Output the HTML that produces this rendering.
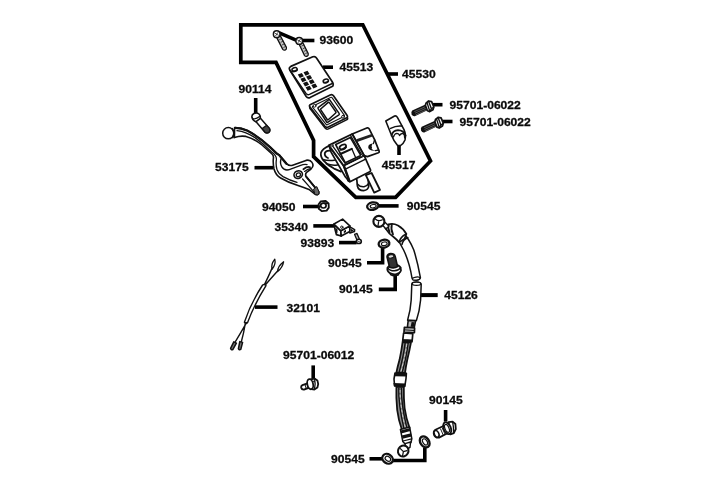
<!DOCTYPE html>
<html lang="en">
<head>
<meta charset="utf-8">
<title>Brake master cylinder parts diagram</title>
<style>
html,body{margin:0;padding:0;background:#fff;}
body{width:720px;height:480px;overflow:hidden;}
svg{display:block;filter:grayscale(1);}
text{font-family:"Liberation Sans",Arial,Helvetica,sans-serif;font-weight:bold;font-size:12.1px;fill:#0a0a0a;stroke:#0a0a0a;stroke-width:0.3px;}
.ld{stroke:#000;stroke-width:3.6;fill:none;stroke-linecap:butt;stroke-linejoin:miter;}
.fr{stroke:#000;stroke-width:3.7;fill:none;stroke-linejoin:miter;}
.p{stroke:#111;stroke-width:1.25;fill:#fff;stroke-linejoin:round;stroke-linecap:round;}
.pn{stroke:#111;stroke-width:1.25;fill:none;stroke-linejoin:round;stroke-linecap:round;}
.t{stroke:#222;stroke-width:0.8;fill:none;stroke-linecap:round;}
.g{stroke:#111;stroke-width:1.2;fill:#9a9a9a;stroke-linejoin:round;}
.k{fill:#111;stroke:none;}
</style>
</head>
<body>
<svg width="720" height="480" viewBox="0 0 720 480">
<rect width="720" height="480" fill="#fff"/>

<!-- assembly frame -->
<g id="frame">
<path class="fr" d="M240.8 24.8 L362.8 24.8 L430.5 161 L395.6 197.3 L355.8 197.3 L313.6 156.6 L313.6 140.4 L276 62.4 L240.8 62.4 Z"/>
</g>

<!-- labels -->
<g id="labels">
<text transform="translate(319.5 44.3) scale(1 0.955)">93600</text>
<text transform="translate(339.5 71.0) scale(1 0.955)">45513</text>
<text transform="translate(402.1 78.2) scale(1 0.955)">45530</text>
<text transform="translate(238.5 92.8) scale(1 0.955)">90114</text>
<text transform="translate(449.5 109.0) scale(1 0.955)">95701-06022</text>
<text transform="translate(459.5 126.0) scale(1 0.955)">95701-06022</text>
<text transform="translate(215 171.3) scale(1 0.955)">53175</text>
<text transform="translate(381.8 168.5) scale(1 0.955)">45517</text>
<text transform="translate(261.9 211.0) scale(1 0.955)">94050</text>
<text transform="translate(406.8 210.3) scale(1 0.955)">90545</text>
<text transform="translate(274.4 230.8) scale(1 0.955)">35340</text>
<text transform="translate(300.5 246.6) scale(1 0.955)">93893</text>
<text transform="translate(328 266.8) scale(1 0.955)">90545</text>
<text transform="translate(339 293.2) scale(1 0.955)">90145</text>
<text transform="translate(444.2 299.3) scale(1 0.955)">45126</text>
<text transform="translate(286.4 311.7) scale(1 0.955)">32101</text>
<text transform="translate(283 359.0) scale(1 0.955)">95701-06012</text>
<text transform="translate(429 404.2) scale(1 0.955)">90145</text>
<text transform="translate(331 462.9) scale(1 0.955)">90545</text>
</g>

<!-- leader lines -->
<g id="leaders">
<path class="ld" d="M279.2 32.8 L298.4 41.2"/><path class="ld" d="M298 40.5 H314.4"/>
<path class="ld" d="M323 67.2 H333"/>
<path class="ld" d="M388 74 H398"/>
<path class="ld" d="M255.7 98 V114"/>
<path class="ld" d="M432 104.7 H442.5"/>
<path class="ld" d="M442 121.5 H452.5"/>
<path class="ld" d="M254.5 167.7 H273.5"/>
<path class="ld" d="M399 144.5 V155"/>
<path class="ld" d="M303 206.5 H319"/>
<path class="ld" d="M379 205.9 H398.6"/>
<path class="ld" d="M313.3 225.9 H334.6"/>
<path class="ld" d="M339 242.6 H356.6"/>
<path class="ld" d="M367 262.8 H382.6 V247.6"/>
<path class="ld" d="M378.8 289.4 H395.2 V274.6"/>
<path class="ld" style="stroke-width:4" d="M420.5 295.1 H437.7"/>
<path class="ld" d="M255 307.1 H277.5"/>
<path class="ld" d="M313.2 365.4 V379.4"/>
<path class="ld" d="M445.6 410 V421.6"/>
<path class="ld" d="M369.5 458.8 H383"/>
<path class="ld" d="M392.4 460.5 H424.8 V447.6"/>
</g>

<g id="parts">
<!-- screws 93600 -->
<g id="screws">
<path style="stroke:#111;stroke-width:1.3;fill:#c4c4c4;stroke-linejoin:round" d="M276.6 37.4 L280.2 35.6 L286.4 47.4 Q286.8 49.2 285.4 50 Q283.8 50.6 282.8 49.4 Z"/>
<path class="t" d="M279.6 39.6 L281.6 38.6 M281 42.2 L283 41.2 M282.4 44.8 L284.4 43.8 M283.8 47.4 L285.6 46.4"/>
<ellipse class="p" style="stroke-width:1.5" cx="276.7" cy="34.2" rx="3.3" ry="3.4"/>
<path class="t" d="M275 33.2 L278.4 35.2 M275.6 35.8 L277.8 32.6"/>
<path style="stroke:#111;stroke-width:1.3;fill:#c4c4c4;stroke-linejoin:round" d="M299 44 L302.6 42.2 L308.2 53.6 Q308.6 55.4 307.2 56.2 Q305.6 56.8 304.6 55.6 Z"/>
<path class="t" d="M301.8 46 L303.8 45 M303.2 48.6 L305.2 47.6 M304.4 51.2 L306.4 50.2 M305.6 53.6 L307.4 52.6"/>
<ellipse class="p" style="stroke-width:1.5" cx="299.2" cy="40.9" rx="3.3" ry="3.4"/>
<path class="t" d="M297.5 39.9 L300.9 41.9 M298.1 42.5 L300.3 39.3"/>
</g>
<!-- cap 45513 -->
<g id="cap">
<path class="p" style="stroke-width:1.7" d="M289.8 70 Q288.4 67.6 290.8 66.4 L312.8 56.8 Q315.2 55.9 316.5 58 L332.4 82 Q333.6 83.8 333 85.8 L332.6 86.2 L310 97.6 Q307.6 98.6 306.2 96.5 Z"/>
<path class="pn" style="stroke-width:1.4" d="M289.8 70 L306 93.4 Q307.4 95.3 309.5 94.4 L331.2 84 Q333 83.2 332.4 82"/>
<ellipse class="p" style="stroke-width:1.5" cx="294.6" cy="69.6" rx="2.7" ry="1.9" transform="rotate(-20 294.6 69.6)"/>
<path class="pn" style="stroke-width:1.2" d="M292.6 70.6 Q294.6 71.6 296.8 69.8"/>
<ellipse class="p" style="stroke-width:1.5" cx="325.8" cy="81" rx="2.7" ry="1.9" transform="rotate(-20 325.8 81)"/>
<path class="pn" style="stroke-width:1.2" d="M323.8 82 Q325.8 83 328 81.2"/>
<g transform="matrix(0.92 -0.36 0.52 0.85 297.8 74.6)">
<rect class="k" x="0" y="0" width="4.4" height="3.9"/><rect class="k" x="6.2" y="0" width="4.4" height="3.9"/>
<rect class="k" x="0" y="5" width="4.4" height="3.9"/><rect class="k" x="6.2" y="5" width="4.4" height="3.9"/>
<rect class="k" x="0" y="10" width="4.4" height="3.9"/><rect class="k" x="6.2" y="10" width="4.4" height="3.9"/>
<rect class="k" x="0" y="15" width="4.4" height="3.9"/><rect class="k" x="6.2" y="15" width="4.4" height="3.9"/>
</g>
</g>
<!-- diaphragm -->
<g id="diaphragm">
<path class="p" style="stroke-width:1.5" d="M310.2 108.9 Q308.8 107.2 310.8 106.2 L330.2 96.8 Q332.2 95.8 333.5 97.6 L347.2 117.1 Q348.5 118.9 346.5 119.9 L328.5 128.8 Q326.5 129.8 325.1 128.1 Z"/>
<path class="p" style="stroke-width:1.7" d="M310.0 107.1 Q308.6 105.4 310.6 104.4 L330.2 95.0 Q332.2 94.0 333.5 95.8 L347.0 115.3 Q348.3 117.1 346.3 118.1 L328.3 127.0 Q326.3 128.0 324.9 126.3 Z"/>
<path class="pn" style="stroke-width:1.1" d="M312.7 107.3 Q312.0 106.4 313.1 105.9 L330.5 97.5 Q331.6 96.9 332.2 97.9 L344.2 115.1 Q344.9 116.1 343.9 116.6 L327.7 124.6 Q326.7 125.2 325.9 124.2 Z"/>
<path class="pn" style="stroke-width:1.5" d="M318.1 108.7 Q317.6 107.9 318.4 107.3 L328.5 99.9 Q329.3 99.3 329.9 100.1 L339.1 113.4 Q339.7 114.2 338.9 114.8 L328.0 122.2 Q327.2 122.8 326.7 122.0 Z"/>
<path class="pn" style="stroke-width:1.5" d="M320.8 109.9 Q320.4 109.2 321.0 108.7 L328.2 102.4 Q328.8 101.9 329.3 102.6 L335.8 111.8 Q336.3 112.5 335.7 113.0 L328.2 119.7 Q327.6 120.2 327.2 119.5 Z"/>
<circle class="p" style="stroke-width:1" cx="314.6" cy="105.8" r="1.4"/><circle class="p" style="stroke-width:1" cx="343" cy="116.8" r="1.4"/>
</g>
<!-- pin 90114 -->
<g id="pin">
<path class="p" style="stroke-width:1.5" d="M255 120.4 L259.6 117.2 L269.4 128.4 Q270.6 130.8 268.8 132.4 Q266.8 133.6 265 132.2 Z"/>
<path d="M262.2 128.6 L266.6 125.4 L269.4 128.4 Q270.6 130.8 268.8 132.4 Q266.8 133.6 265 132.2 Z" fill="#444" stroke="#111" stroke-width="1.2"/>
<path class="p" style="stroke-width:1.6" d="M252 117.6 Q251.4 114.6 254 113.4 Q257 112.4 259 114 Q261 116 260 118.6 L256 121.6 Q253 121 252 117.6 Z"/>
<path class="pn" style="stroke-width:1.3" d="M252.6 118.6 Q256 119.6 259.6 116.6"/>
</g>
<!-- lever 53175 -->
<g id="lever">
<path class="p" style="stroke-width:1.6" d="M234.6 127.6 Q241 127.6 247.5 130.6 Q259 136.6 270 147 L277 153.6 Q279.6 154.6 281.4 157.4 L286.6 163.6 Q289.4 166.4 292.6 165.2 L306 160.4 Q310 159.4 312 162.4 Q314.4 165.8 311 169 L306.6 172.4 Q305 174 306 176.4 L318.6 191.6 Q319.6 193.8 317.6 194.6 Q315.6 195 314 193.4 L309 189.4 Q304 187.4 298 185.4 Q288 182.4 280.6 178 Q275.6 175 274 169 Q272.8 163 273.4 158 Q273.8 155.6 272 154 L262 145 Q254 138.6 246 136.4 Q240 135.4 234.4 137.6 Z"/>
<path class="pn" style="stroke-width:2.3" d="M235.6 127.8 Q241 127.8 247.5 130.8 Q259 136.8 270 147.2 L277 153.8 Q279.4 154.8 281.2 157.6 L286.4 163.8"/>
<path class="pn" style="stroke-width:1.3" d="M237 130.6 Q246 131.6 254.6 137.4 Q263 143.2 271.6 152 Q276.6 155.4 276.4 159.4 Q275.6 165 277 169.6 Q278.6 174 283 176.6 Q290 180.4 297 182.4"/>
<path class="pn" style="stroke-width:1.4" d="M281 159 Q279.6 163.4 282 167.2 Q284 170.6 288.6 169.8 L300 165.6 Q304.6 163.8 307 164.6"/>
<path class="pn" style="stroke-width:1.8" d="M306.2 176.6 L318.4 191.6"/>
<path class="pn" style="stroke-width:1.2" d="M302.6 179 L314.6 192.6"/>
<circle class="p" style="stroke-width:1.5" cx="228.3" cy="133.2" r="5.6"/>
<path class="pn" style="stroke-width:1.6" d="M232.4 128.6 Q235 133 232.8 137.6"/>
<ellipse class="p" style="stroke-width:1.6" cx="298.2" cy="174.6" rx="4.3" ry="3.7" transform="rotate(-25 298.2 174.6)"/>
<ellipse class="p" style="stroke-width:1.3" cx="298.4" cy="174.8" rx="2.2" ry="1.8" transform="rotate(-25 298.4 174.8)"/>
<path class="pn" style="stroke-width:1.8" d="M303.4 169.2 Q307.6 166 310 167.4"/>
<path class="pn" style="stroke-width:1.3" d="M304.6 171.4 Q308 168.6 310.6 168.6"/>
<path d="M313.6 189 L316.8 186.6 L318.8 191.4 Q319.8 193.8 317.6 194.8 Q315.6 195.2 314.6 193.6 Z" fill="#666" stroke="#111" stroke-width="1"/>
</g>
<!-- clamp 45517 -->
<g id="clamp">
<path class="p" style="stroke-width:1.6" d="M385.8 121 L394.6 116 Q396.4 115.6 397.4 117.4 L404 129.6 Q406.2 134.6 405 140 Q403.4 144 400.4 145.6 L397.6 145.6 Q393.6 141 391.4 135 Z"/>
<path class="pn" style="stroke-width:1.5" d="M390.6 128.4 Q396 125.4 401.8 126"/>
<path class="pn" style="stroke-width:1.8" d="M391.6 135.6 Q392.6 130.6 398 130.2 Q403.6 130.4 405.6 135.6"/>
<path class="pn" style="stroke-width:1.3" d="M393.4 137 Q394.4 133.6 397 133.4 Q399 133.6 399.6 135.6 Q400.6 133 403.2 133.6 Q404.8 134.6 404.6 137.6"/>
</g>
<!-- bolts 95701-06022 -->
<g id="bolts">
<path class="k" d="M 412.2 110.4 L 426.0 104.2 L 428.4 109.8 L 414.8 116.2 Q 412.6 116.6 411.6 114.2 Q 410.8 111.8 412.2 110.4 Z"/>
<path d="M 414.4 111.6 L 426.4 106.2 M 415.0 113.2 L 427.0 107.8 M 415.8 114.8 L 427.6 109.4" stroke="#999" stroke-width="0.5" fill="none"/>
<path class="p" style="stroke-width:1.7" d="M 426.0 103.2 L 428.6 101.0 L 431.6 101.6 L 433.8 107.0 L 433.0 109.8 L 429.8 111.6 L 427.4 110.8 L 425.4 105.4 Z"/>
<path class="pn" style="stroke-width:1.4" d="M 428.6 101.2 L 431.4 108.8 L 429.8 111.4 M 431.4 108.8 L 433.6 107.2 M 427.0 102.6 L 429.6 110.6"/>
<path class="k" d="M 421.7 126.7 L 435.5 120.5 L 437.9 126.1 L 424.3 132.5 Q 422.1 132.9 421.1 130.5 Q 420.3 128.1 421.7 126.7 Z"/>
<path d="M 423.9 127.9 L 435.9 122.5 M 424.5 129.5 L 436.5 124.1 M 425.3 131.1 L 437.1 125.7" stroke="#999" stroke-width="0.5" fill="none"/>
<path class="p" style="stroke-width:1.7" d="M 435.5 119.5 L 438.1 117.3 L 441.1 117.9 L 443.3 123.3 L 442.5 126.1 L 439.3 127.9 L 436.9 127.1 L 434.9 121.7 Z"/>
<path class="pn" style="stroke-width:1.4" d="M 438.1 117.5 L 440.9 125.1 L 439.3 127.7 M 440.9 125.1 L 443.1 123.5 M 436.5 118.9 L 439.1 126.9"/>
</g>
<!-- master cylinder -->
<g id="cylinder">
<!-- rear cylinder body -->
<path class="p" style="stroke-width:1.7" d="M352.2 134 L367.4 127.8 Q368.6 127.6 369.2 128.8 L374.6 139.6 L379.2 151.4 Q379.4 152.4 378.4 152.8 L367.4 156.6 L364 155.6 Z"/>
<path d="M356.8 140.6 L372 135.2" stroke="#222" stroke-width="2.8" fill="none"/>
<path class="k" d="M373.4 143.6 Q368.4 143.8 368.2 147.2 Q368.6 151 375.4 150.6 Q372.4 150.4 371.6 148.6 Q372.6 147.4 371.6 146.4 Q371.6 144.4 373.4 143.6 Z"/>
<path class="pn" style="stroke-width:1.3" d="M373.4 143.6 L374.6 139.8 M375.4 150.6 L378.6 150"/>
<!-- lug on left -->
<path class="p" style="stroke-width:1.7" d="M329.4 145.6 Q322.4 148.6 321 152.6 Q320.2 156.6 323.6 160.6 Q328 165.6 334 168.6 L341 171.6 L344 166 Z"/>
<path class="pn" style="stroke-width:1.8" d="M330.4 150.8 Q326 150.2 324.8 153.2 Q324.4 156.6 328 158"/>
<path class="pn" style="stroke-width:1.6" d="M322.6 159.4 Q328 161 334.4 160.2 M326.4 163.8 Q332 165.8 337.4 165"/>
<!-- reservoir body -->
<path class="p" style="stroke-width:1.7" d="M343.6 165.6 L364.2 155.6 L370.6 170.2 L370.2 171.6 L350 181.8 L348 180.8 Z"/>
<path class="p" style="stroke-width:1.6" d="M329 145.6 L343.6 165.6 L349.4 181.4 L345.4 177 L331 152 Z"/>
<path class="pn" style="stroke-width:1.5" d="M346.4 168.6 L365.6 159.2"/>
<path class="pn" style="stroke-width:2.4" d="M344 166.2 L349.4 181"/>
<!-- rim -->
<path class="p" style="stroke-width:1.9" d="M328.8 145.4 L352.2 134 L364.1 155.5 L343.5 165.6 Z"/>
<path class="pn" style="stroke-width:1.3" d="M332 145.2 L345.2 163.4 M350.6 135.6 L362.4 156"/>
<path class="p" style="stroke-width:1.7" d="M335.7 144.6 L350.4 137.6 L360.8 155.4 L345.3 162.8 Z"/>
<path class="pn" style="stroke-width:2" d="M340.4 154 L351.8 148.8"/>
<path class="pn" style="stroke-width:1.3" d="M351.8 148.8 L355.6 157.6"/>
<ellipse class="p" style="stroke-width:1.7" cx="342.8" cy="146.8" rx="3.5" ry="2" transform="rotate(-27 342.8 146.8)"/>
<path class="pn" style="stroke-width:1.2" d="M340.4 150.2 Q344.4 150.2 346.4 147.2"/>
<circle class="p" style="stroke-width:0.9" cx="332" cy="145.2" r="1.1"/><circle class="p" style="stroke-width:0.9" cx="361.8" cy="155.6" r="1.1"/>
<!-- outlet -->
<path class="p" style="stroke-width:1.7" d="M356.8 179.6 L357.4 186 Q358.4 190.6 363.6 190.6 Q368.2 190.2 368.8 186 L367.8 177"/>
<path class="pn" style="stroke-width:1.5" d="M357.4 184 Q360 187.2 364 186.8 Q367.2 186.2 368.4 183.6"/>
<path class="p" style="stroke-width:1.8" d="M365.8 175.2 L371.6 173 L380 190 L374.2 192.6 Z"/>
</g>
<!-- nut 94050 -->
<g id="nut">
<path class="p" style="stroke-width:1.8" d="M318.6 204.2 L320.8 201.4 L325.4 200.8 L328.6 203.4 L328.8 207.6 L326.6 210.6 L322 211.2 L318.8 208.8 Z"/>
<path class="pn" style="stroke-width:1.3" d="M318.8 208.6 L319.8 206 Q321.2 203 325.2 203 L328.4 203.6"/>
<ellipse class="p" style="stroke-width:1.7" cx="323.4" cy="205.6" rx="2.7" ry="2.4"/>
</g>
<!-- washers 90545 -->
<g id="washers">
<ellipse class="p" style="stroke-width:2.3" cx="372.8" cy="206.1" rx="5.7" ry="3.7" transform="rotate(-10 372.8 206.1)"/>
<ellipse class="p" style="stroke-width:1.2" cx="373.2" cy="206.2" rx="3" ry="1.7" transform="rotate(-10 373.2 206.2)"/>
<ellipse class="p" style="stroke-width:2.3" cx="384" cy="243.7" rx="5.4" ry="3.9" transform="rotate(-10 384 243.7)"/>
<ellipse class="p" style="stroke-width:1.2" cx="384.3" cy="243.8" rx="2.9" ry="1.8" transform="rotate(-10 384.3 243.8)"/>
<ellipse class="p" style="stroke-width:2.3" cx="387.6" cy="458.8" rx="5.6" ry="4.5" transform="rotate(35 387.6 458.8)"/>
<ellipse class="p" style="stroke-width:1.2" cx="387.9" cy="458.8" rx="3" ry="2.2" transform="rotate(35 387.9 458.8)"/>
<ellipse class="p" style="stroke-width:2.3" cx="424.7" cy="441.9" rx="6" ry="4.3" transform="rotate(55 424.7 441.9)"/>
<ellipse class="p" style="stroke-width:1.2" cx="425" cy="441.9" rx="3.4" ry="2.1" transform="rotate(55 425 441.9)"/>
</g>
<!-- switch 35340 -->
<g id="switch">
<path class="p" style="stroke-width:1.6" d="M349 226.4 L354.6 229.6 L354.4 231.6 L350 233 L348 230 Z"/>
<path class="k" d="M350.4 228.4 L353.8 230.4 L351 232 Z"/>
<path class="p" style="stroke-width:1.7" d="M334 224 L340.8 230.8 L341.2 236 L336.4 234.6 L335.2 230 Z"/>
<path class="p" style="stroke-width:1.7" d="M340.8 230.8 L349.8 225.9 L349.8 231.6 L341.2 236 Z"/>
<path class="k" d="M335.6 227.6 L337.6 229.4 L337.4 233.6 L336 232.6 Z"/>
<path class="k" d="M343.8 231 L346 229.8 L346 232 L343.8 233.2 Z"/>
<path class="p" style="stroke-width:1.6" d="M334 224 L342.6 219.1 L349.8 225.9 L340.8 230.8 Z"/>
<circle class="p" style="stroke-width:1" cx="341.8" cy="227.2" r="1.2"/>
</g>
<!-- screw 93893 -->
<g id="smallscrew">
<path class="g" style="stroke-width:1.3;fill:#bbb" d="M354.6 234.4 L357 233.4 L359.6 239.4 L357.2 240.4 Z"/>
<ellipse class="p" style="stroke-width:1.6" cx="358.8" cy="241.4" rx="2.5" ry="2.1"/>
<path class="t" d="M357.4 241 L360 242"/>
</g>
<!-- upper banjo + hose -->
<g id="hose">
<path class="p" style="stroke-width:1.5" d="M403.6 250 Q399.6 241.6 394.6 236 L401 230.6 Q409 238 413.8 250 Q417.6 262 420.4 277.6 Q420 280 416 280.2 Q412.6 280 412 278 Q409.4 262 403.6 250 Z"/>
<ellipse class="p" cx="416.2" cy="278.6" rx="3.8" ry="1.5" transform="rotate(-8 416.2 278.6)"/>
<path class="p" style="stroke-width:1.5" d="M411.8 284 Q412 282 416.4 282 Q421 282.2 421.2 284.4 L420.6 300 Q419.6 311 416.4 320.6 L407.6 320.2 Q410.6 310 411.2 300 Z"/>
<ellipse class="p" cx="416.5" cy="283.8" rx="4.2" ry="1.6"/>
<!-- upper ferrule -->
<path class="p" style="stroke-width:1.7" d="M385.4 228.4 L388 224.6 Q393 223 398 225.4 Q403.6 228.6 406.4 234 L404.6 238.6 L399.2 242.4 Q396.6 239.4 393.6 237 Q388.6 233.6 385.4 228.4 Z"/>
<path class="pn" style="stroke-width:1.8" d="M388.6 224.6 Q387.6 228.6 389.6 232.2 M391.8 224.4 Q390.6 229.4 393 234.4"/>
<path class="pn" style="stroke-width:1.6" d="M399.4 241.6 Q400.4 236.8 405.8 234.2 M402 244.4 Q403 239.8 407.8 237.6"/>
<path class="p" style="stroke-width:1.4" d="M382.4 225 L385.2 222.4 L388.8 226 L386 229 Z"/>
<circle class="p" style="stroke-width:2.1" cx="378.9" cy="221.4" r="5.5"/>
<path class="pn" d="M375.4 219 Q378.6 222 382.4 219.8 M378.6 221.8 L378 226"/>
<!-- mid fitting -->
<path class="p" style="stroke-width:1.6;fill:#bbb" d="M408.2 320.4 L415.6 320.8 L414.2 327.6 L407.4 327.2 Z"/>
<path class="k" d="M411.6 322 L414.6 322.2 L413.8 327 L410.6 326.8 Z"/>
<path class="p" style="stroke-width:1.7" d="M404.4 327.4 L414.6 328 L414.4 332.6 L404 332 Z"/>
<path class="pn" style="stroke-width:1.3" d="M404.4 329.8 L414.4 330.4"/>
<path class="p" style="stroke-width:1.7" d="M403.6 333 L412.8 333.6 L412.2 340.4 L402.8 339.8 Z"/>
<path class="k" d="M402 339.6 L413 340.2 L412.8 342.4 L401.8 341.8 Z"/>
<!-- braided hose -->
<path class="p" style="stroke-width:1.8;fill:#8a8a8a" d="M402.6 342 L411 342.4 Q409.4 351 407.2 360 Q405.8 366.6 405 372.8 L396.4 372.4 Q397.8 366 399.6 359.6 Q401.6 350 402.6 342 Z"/>
<path d="M405.2 342.6 Q403.6 356 399.2 372 M408.2 342.6 Q406.6 356 402.2 372.4" stroke="#111" stroke-width="1.4" fill="none"/>
<path d="M406.8 344 Q405 357 400.8 372" stroke="#eee" stroke-width="0.7" stroke-dasharray="3 2" fill="none"/>
<path class="p" style="stroke-width:1.6" d="M395 373 L406.4 373.4 L406 378.6 L404.8 386.4 L394.6 386 L394 379 Z"/>
<path class="k" d="M394.8 373.4 L406.6 373.8 L406.4 376.6 L394.6 376.2 Z"/>
<path class="k" d="M393.4 383 L405.6 383.4 L405.2 386.6 L394 386.2 Z"/>
<path class="p" style="stroke-width:1.8;fill:#8a8a8a" d="M396.4 386.6 L403.8 386.8 Q403.6 398 404.6 408 Q406 418 409.6 428 L402 430 Q398.4 420 397.2 410 Q396 398 396.4 386.6 Z"/>
<path d="M398.8 387.6 Q398.2 404 404 428.6 M401.4 387.6 Q401 404 406.8 427.8" stroke="#111" stroke-width="1.4" fill="none"/>
<path d="M400.1 390 Q399.8 405 405.4 428" stroke="#eee" stroke-width="0.7" stroke-dasharray="3 2" fill="none"/>
<!-- lower ferrule -->
<path class="p" style="stroke-width:1.5" d="M400.4 429.4 L409.6 427 L411.8 438.6 L411 442.6 L405.6 444.6 L402.8 441.4 Z"/>
<path class="k" d="M400.6 430.6 L409.8 428 L410.4 431 L401.2 433.6 Z"/>
<path class="k" d="M401.8 435.6 L411 433.2 L411.6 436.4 L402.6 438.8 Z"/>
<path class="pn" d="M403 441 L411.6 438.8"/>
<path class="p" style="stroke-width:1.4" d="M405 443.6 L410.6 442 L410 447.4 L406.4 449.6 Z"/>
<ellipse class="p" style="stroke-width:2" cx="403.2" cy="451" rx="5.2" ry="5.6" transform="rotate(30 403.2 451)"/>
<path class="pn" d="M400.4 448.6 L403.4 451.6 L407 450.6 M403.4 451.6 L402.6 455.6"/>
</g>
<!-- bolt 90145 (middle) -->
<g id="bolt-mid">
<path class="p" style="stroke-width:1.6" d="M389.6 271.6 L390.6 274.6 Q394 276.6 398 275 L399.6 272 Z"/>
<path class="p" style="stroke-width:1.7" d="M387.4 267.8 Q386.8 270.8 389.4 272.8 Q392.6 275 396.4 274.2 Q400 273.4 401 270.4 L400.6 267.4 Q398.6 264.6 394 264.4 Q389.6 264.6 387.4 267.8 Z"/>
<path class="pn" style="stroke-width:1.4" d="M387.8 267.8 Q389.6 270.8 394.4 270.8 Q398.8 270.6 400.6 267.6"/>
<path class="p" style="stroke-width:1.6;fill:#333" d="M387 256.8 Q387.2 253.8 390.8 253.6 Q394.4 253.6 395.2 256.4 L397.6 266.6 Q394 268.8 389.6 267.2 Z"/>
<ellipse class="p" style="stroke-width:1;fill:#ddd" cx="391" cy="256.4" rx="2.9" ry="1.7" transform="rotate(-8 391 256.4)"/>
</g>
<!-- bolt 90145 (lower right) -->
<g id="bolt-low">
<path class="p" style="stroke-width:1.8" d="M448.6 422.2 L452.6 421.6 L455.4 424 L455.8 429 L453.8 433.2 L450.4 434.4 Z"/>
<path class="pn" style="stroke-width:1.3" d="M452.6 421.8 Q453.8 427 453.6 433"/>
<path class="p" style="stroke-width:1.8" d="M435.4 429.8 L445 425.2 L448.4 432.8 L439 437.6 Q435.6 438.2 434 434.8 Q433 431.6 435.4 429.8 Z"/>
<path d="M440.4 428.6 L443.2 435 M442.2 427.8 L445 434.2 M444 427 L446.6 433.2" stroke="#222" stroke-width="1" fill="none"/>
<ellipse class="p" style="stroke-width:1.5" cx="436.6" cy="433.8" rx="2.2" ry="3.5" transform="rotate(-25 436.6 433.8)"/>
<ellipse class="p" style="stroke-width:1.8" cx="447.2" cy="428.2" rx="3.6" ry="6.2" transform="rotate(-22 447.2 428.2)"/>
<ellipse class="pn" style="stroke-width:1.2" cx="447" cy="428.4" rx="2" ry="4.2" transform="rotate(-22 447 428.4)"/>
</g>
<!-- wires 32101 -->
<g id="wires">
<path class="pn" style="stroke-width:1.4" d="M264 285.6 Q268.4 276.6 272 268.4 M264.6 285.8 Q271.4 277.8 277.6 271"/>
<path class="p" style="stroke-width:1.3" d="M274.8 259.2 Q276 264.4 272.2 269 Q270.6 264.6 274.8 259.2 Z"/>
<path class="p" style="stroke-width:1.3" d="M283.6 261.8 Q282.6 267.4 277.6 271.6 Q277.6 266.4 283.6 261.8 Z"/>
<path class="p" style="stroke-width:1.4" d="M262.6 285 Q264.4 283.6 266 285.6 Q254.4 304 247.6 322.6 Q246 324 244.4 322.2 Q250.8 303 262.6 285 Z"/>
<path class="pn" style="stroke-width:1.4" d="M246.6 322.6 Q240 334 234.8 342.6 M245.4 322.8 Q243.6 334 241.2 342.2"/>
<path class="p" style="stroke-width:1.5;fill:#777" d="M233.8 341.8 L236.4 343.2 L232.8 349.6 Q231 350.4 230.6 348.4 Z"/>
<path class="p" style="stroke-width:1.5;fill:#777" d="M239.8 341.6 L242.6 342.4 L240.8 349.4 Q239.2 350.4 238.4 348.6 Z"/>
</g>
<!-- bolt 95701-06012 -->
<g id="bolt-small">
<path class="p" style="stroke-width:1.9" d="M302.4 385.2 L309 382.8 L310.6 387 L304 389.6 Q301.8 389.8 301.2 387.8 Q300.8 386 302.4 385.2 Z"/>
<path class="pn" style="stroke-width:1" d="M305 384.6 L306.2 388.4 M307.2 383.8 L308.4 387.6"/>
<path class="p" style="stroke-width:1.8" d="M311 379.4 L314.6 378.6 L317.4 380.4 L318.2 384 L317.4 387.6 L314.4 389.6 L311.6 389.2 Z"/>
<ellipse class="p" style="stroke-width:1.8" cx="310.2" cy="384.2" rx="2.9" ry="5.1" transform="rotate(-12 310.2 384.2)"/>
<path class="pn" style="stroke-width:1.3" d="M314.6 378.8 Q315.8 383.6 314.4 389.4"/>
<circle class="k" cx="314" cy="381.4" r="0.9"/>
</g>
</g>
</svg>
</body>
</html>
